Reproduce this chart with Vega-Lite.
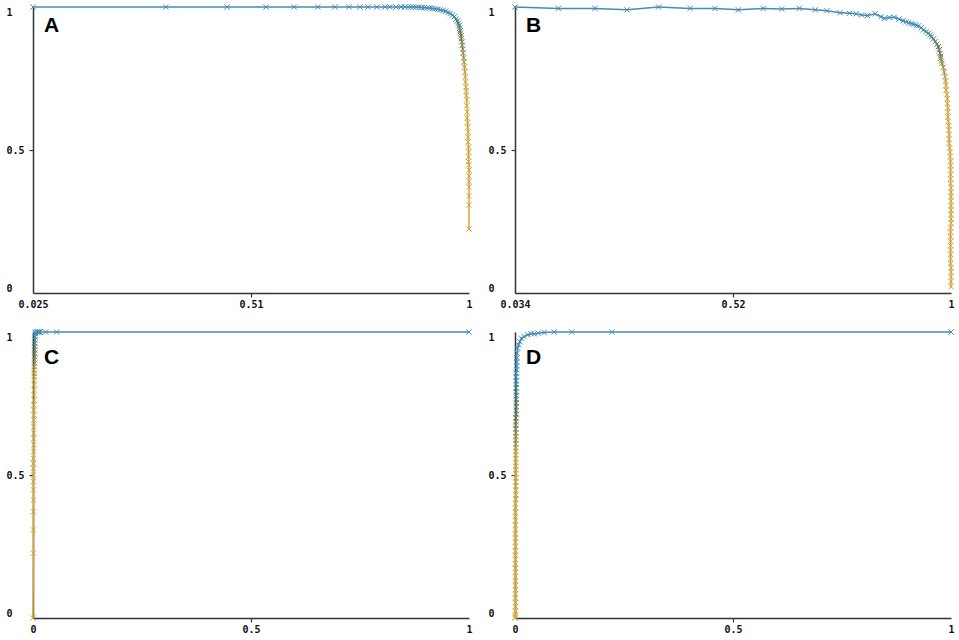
{
  "$schema": "https://vega.github.io/schema/vega-lite/v6.json",
  "padding": {"left": 6, "top": 2, "right": 5, "bottom": 5},
  "bounds": "flush",
  "columns": 2,
  "spacing": {"row": 39, "column": 46},
  "config": {
    "view": {"stroke": null},
    "axis": {
      "grid": false,
      "title": null,
      "domainColor": "#333333",
      "domainWidth": 1.5,
      "tickColor": "#333333",
      "tickWidth": 1.2,
      "tickSize": 4,
      "labelFont": "DejaVu Sans Mono",
      "labelFontSize": 10,
      "labelFontWeight": "bold",
      "labelColor": "#111111",
      "format": ".2~r",
      "tickOpacity": {"condition": {"test": "datum.value > 0.1 && datum.value < 0.9", "value": 1}, "value": 0}
    },
    "axisX": {"labelPadding": 2, "labelFlush": false},
    "axisY": {"labelAlign": "left", "labelPadding": 23, "labelFlush": true}
  },
  "datasets": {
    "A": [
      {"x":0.025,"y":1.0,"threshold":1.0},{"x":0.322,"y":1.0,"threshold":0.98},{"x":0.459,"y":1.0,"threshold":0.96},{"x":0.546,"y":1.0,"threshold":0.94},{"x":0.609,"y":1.0,"threshold":0.92},{"x":0.662,"y":1.0,"threshold":0.9},{"x":0.7,"y":1.0,"threshold":0.88},{"x":0.732,"y":1.0,"threshold":0.86},{"x":0.756,"y":1.0,"threshold":0.84},{"x":0.774,"y":1.0,"threshold":0.82},{"x":0.794,"y":1.0,"threshold":0.8},{"x":0.812,"y":1.0,"threshold":0.78},{"x":0.823,"y":1.0,"threshold":0.77},{"x":0.837,"y":1.0,"threshold":0.76},{"x":0.848,"y":1.0,"threshold":0.75},{"x":0.857,"y":1.0,"threshold":0.74},{"x":0.864,"y":1.0,"threshold":0.73},{"x":0.87,"y":1.0,"threshold":0.72},{"x":0.876,"y":1.0,"threshold":0.71},{"x":0.882,"y":0.999,"threshold":0.7},{"x":0.888,"y":0.999,"threshold":0.69},{"x":0.894,"y":0.998,"threshold":0.68},{"x":0.9,"y":0.998,"threshold":0.67},{"x":0.906,"y":0.997,"threshold":0.66},{"x":0.912,"y":0.996,"threshold":0.65},{"x":0.918,"y":0.995,"threshold":0.645},{"x":0.924,"y":0.994,"threshold":0.64},{"x":0.93,"y":0.992,"threshold":0.635},{"x":0.936,"y":0.99,"threshold":0.63},{"x":0.942,"y":0.988,"threshold":0.625},{"x":0.948,"y":0.985,"threshold":0.62},{"x":0.953,"y":0.981,"threshold":0.61},{"x":0.958,"y":0.977,"threshold":0.6},{"x":0.963,"y":0.972,"threshold":0.59},{"x":0.967,"y":0.966,"threshold":0.58},{"x":0.971,"y":0.959,"threshold":0.57},{"x":0.974,"y":0.951,"threshold":0.56},{"x":0.976,"y":0.943,"threshold":0.55},{"x":0.978,"y":0.935,"threshold":0.54},{"x":0.979,"y":0.926,"threshold":0.53},{"x":0.98,"y":0.917,"threshold":0.52},{"x":0.981,"y":0.908,"threshold":0.51},{"x":0.982,"y":0.899,"threshold":0.5},{"x":0.983,"y":0.889,"threshold":0.49},{"x":0.984,"y":0.878,"threshold":0.48},{"x":0.985,"y":0.866,"threshold":0.47},{"x":0.986,"y":0.853,"threshold":0.46},{"x":0.987,"y":0.839,"threshold":0.45},{"x":0.988,"y":0.823,"threshold":0.44},{"x":0.989,"y":0.808,"threshold":0.43},{"x":0.99,"y":0.79,"threshold":0.42},{"x":0.991,"y":0.773,"threshold":0.41},{"x":0.992,"y":0.755,"threshold":0.4},{"x":0.992,"y":0.738,"threshold":0.38},{"x":0.993,"y":0.72,"threshold":0.36},{"x":0.994,"y":0.706,"threshold":0.34},{"x":0.994,"y":0.69,"threshold":0.32},{"x":0.995,"y":0.675,"threshold":0.3},{"x":0.995,"y":0.655,"threshold":0.28},{"x":0.996,"y":0.633,"threshold":0.26},{"x":0.996,"y":0.612,"threshold":0.24},{"x":0.997,"y":0.596,"threshold":0.22},{"x":0.997,"y":0.58,"threshold":0.2},{"x":0.998,"y":0.562,"threshold":0.18},{"x":0.998,"y":0.545,"threshold":0.16},{"x":0.998,"y":0.528,"threshold":0.14},{"x":0.999,"y":0.51,"threshold":0.12},{"x":0.999,"y":0.493,"threshold":0.11},{"x":0.999,"y":0.476,"threshold":0.1},{"x":0.999,"y":0.46,"threshold":0.09},{"x":1.0,"y":0.448,"threshold":0.08},{"x":1.0,"y":0.43,"threshold":0.07},{"x":1.0,"y":0.409,"threshold":0.06},{"x":1.0,"y":0.39,"threshold":0.05},{"x":1.0,"y":0.371,"threshold":0.04},{"x":1.0,"y":0.34,"threshold":0.03},{"x":1.0,"y":0.308,"threshold":0.02},{"x":1.0,"y":0.224,"threshold":0.0}
    ],
    "B": [
      {"x":0.034,"y":1.0,"threshold":1.0},{"x":0.13,"y":0.995,"threshold":0.98},{"x":0.211,"y":0.995,"threshold":0.96},{"x":0.282,"y":0.99,"threshold":0.94},{"x":0.352,"y":1.0,"threshold":0.92},{"x":0.422,"y":0.995,"threshold":0.9},{"x":0.477,"y":0.995,"threshold":0.88},{"x":0.529,"y":0.99,"threshold":0.86},{"x":0.584,"y":0.995,"threshold":0.84},{"x":0.625,"y":0.993,"threshold":0.82},{"x":0.664,"y":0.995,"threshold":0.8},{"x":0.699,"y":0.99,"threshold":0.78},{"x":0.725,"y":0.987,"threshold":0.76},{"x":0.754,"y":0.98,"threshold":0.74},{"x":0.775,"y":0.978,"threshold":0.73},{"x":0.79,"y":0.976,"threshold":0.72},{"x":0.802,"y":0.972,"threshold":0.71},{"x":0.815,"y":0.97,"threshold":0.7},{"x":0.832,"y":0.976,"threshold":0.69},{"x":0.845,"y":0.966,"threshold":0.68},{"x":0.852,"y":0.96,"threshold":0.67},{"x":0.863,"y":0.963,"threshold":0.66},{"x":0.874,"y":0.964,"threshold":0.65},{"x":0.885,"y":0.958,"threshold":0.645},{"x":0.894,"y":0.952,"threshold":0.64},{"x":0.9,"y":0.948,"threshold":0.635},{"x":0.906,"y":0.945,"threshold":0.63},{"x":0.912,"y":0.942,"threshold":0.625},{"x":0.917,"y":0.94,"threshold":0.62},{"x":0.923,"y":0.936,"threshold":0.615},{"x":0.928,"y":0.934,"threshold":0.61},{"x":0.934,"y":0.927,"threshold":0.6},{"x":0.939,"y":0.92,"threshold":0.59},{"x":0.945,"y":0.914,"threshold":0.58},{"x":0.95,"y":0.908,"threshold":0.57},{"x":0.954,"y":0.902,"threshold":0.56},{"x":0.957,"y":0.896,"threshold":0.55},{"x":0.961,"y":0.888,"threshold":0.54},{"x":0.965,"y":0.879,"threshold":0.53},{"x":0.969,"y":0.87,"threshold":0.52},{"x":0.972,"y":0.861,"threshold":0.51},{"x":0.974,"y":0.85,"threshold":0.5},{"x":0.976,"y":0.838,"threshold":0.49},{"x":0.977,"y":0.828,"threshold":0.48},{"x":0.977,"y":0.82,"threshold":0.47},{"x":0.979,"y":0.811,"threshold":0.46},{"x":0.98,"y":0.803,"threshold":0.45},{"x":0.983,"y":0.789,"threshold":0.44},{"x":0.985,"y":0.773,"threshold":0.43},{"x":0.987,"y":0.756,"threshold":0.42},{"x":0.988,"y":0.741,"threshold":0.41},{"x":0.989,"y":0.725,"threshold":0.4},{"x":0.989,"y":0.71,"threshold":0.39},{"x":0.991,"y":0.694,"threshold":0.38},{"x":0.992,"y":0.679,"threshold":0.37},{"x":0.992,"y":0.663,"threshold":0.36},{"x":0.993,"y":0.648,"threshold":0.35},{"x":0.993,"y":0.632,"threshold":0.34},{"x":0.993,"y":0.616,"threshold":0.33},{"x":0.994,"y":0.6,"threshold":0.32},{"x":0.995,"y":0.585,"threshold":0.31},{"x":0.995,"y":0.57,"threshold":0.3},{"x":0.996,"y":0.554,"threshold":0.29},{"x":0.996,"y":0.538,"threshold":0.28},{"x":0.996,"y":0.523,"threshold":0.27},{"x":0.997,"y":0.507,"threshold":0.26},{"x":0.998,"y":0.492,"threshold":0.25},{"x":0.998,"y":0.477,"threshold":0.24},{"x":0.999,"y":0.461,"threshold":0.23},{"x":0.999,"y":0.446,"threshold":0.22},{"x":0.999,"y":0.43,"threshold":0.21},{"x":0.999,"y":0.414,"threshold":0.2},{"x":0.999,"y":0.399,"threshold":0.19},{"x":0.999,"y":0.383,"threshold":0.18},{"x":1.0,"y":0.368,"threshold":0.17},{"x":1.0,"y":0.352,"threshold":0.16},{"x":1.0,"y":0.337,"threshold":0.15},{"x":1.0,"y":0.321,"threshold":0.14},{"x":1.0,"y":0.305,"threshold":0.13},{"x":1.0,"y":0.29,"threshold":0.12},{"x":1.0,"y":0.275,"threshold":0.11},{"x":1.0,"y":0.259,"threshold":0.1},{"x":1.0,"y":0.244,"threshold":0.09},{"x":0.999,"y":0.228,"threshold":0.08},{"x":0.999,"y":0.213,"threshold":0.07},{"x":0.999,"y":0.197,"threshold":0.06},{"x":0.999,"y":0.181,"threshold":0.05},{"x":0.999,"y":0.166,"threshold":0.045},{"x":0.999,"y":0.15,"threshold":0.04},{"x":0.999,"y":0.135,"threshold":0.035},{"x":0.999,"y":0.12,"threshold":0.03},{"x":0.999,"y":0.104,"threshold":0.025},{"x":1.0,"y":0.088,"threshold":0.02},{"x":1.0,"y":0.073,"threshold":0.015},{"x":1.0,"y":0.057,"threshold":0.01},{"x":1.0,"y":0.04,"threshold":0.005},{"x":1.0,"y":0.022,"threshold":0.0}
    ],
    "C": [
      {"x":1.0,"y":1.0,"threshold":1.0},{"x":0.054,"y":1.0,"threshold":0.9},{"x":0.029,"y":1.0,"threshold":0.8},{"x":0.016,"y":1.0,"threshold":0.75},{"x":0.014,"y":1.0,"threshold":0.72},{"x":0.012,"y":1.0,"threshold":0.7},{"x":0.01,"y":1.0,"threshold":0.68},{"x":0.008,"y":1.0,"threshold":0.66},{"x":0.006,"y":0.998,"threshold":0.64},{"x":0.005,"y":0.995,"threshold":0.62},{"x":0.005,"y":0.984,"threshold":0.6},{"x":0.005,"y":0.972,"threshold":0.57},{"x":0.004,"y":0.961,"threshold":0.55},{"x":0.004,"y":0.949,"threshold":0.53},{"x":0.004,"y":0.937,"threshold":0.51},{"x":0.004,"y":0.926,"threshold":0.49},{"x":0.004,"y":0.914,"threshold":0.475},{"x":0.004,"y":0.902,"threshold":0.46},{"x":0.004,"y":0.891,"threshold":0.45},{"x":0.003,"y":0.879,"threshold":0.44},{"x":0.003,"y":0.867,"threshold":0.43},{"x":0.003,"y":0.856,"threshold":0.42},{"x":0.003,"y":0.844,"threshold":0.41},{"x":0.003,"y":0.832,"threshold":0.4},{"x":0.003,"y":0.815,"threshold":0.38},{"x":0.003,"y":0.797,"threshold":0.36},{"x":0.003,"y":0.78,"threshold":0.34},{"x":0.003,"y":0.762,"threshold":0.32},{"x":0.002,"y":0.745,"threshold":0.3},{"x":0.002,"y":0.727,"threshold":0.29},{"x":0.002,"y":0.71,"threshold":0.28},{"x":0.002,"y":0.692,"threshold":0.27},{"x":0.002,"y":0.669,"threshold":0.26},{"x":0.002,"y":0.646,"threshold":0.25},{"x":0.002,"y":0.628,"threshold":0.24},{"x":0.002,"y":0.605,"threshold":0.23},{"x":0.002,"y":0.582,"threshold":0.22},{"x":0.001,"y":0.558,"threshold":0.21},{"x":0.001,"y":0.541,"threshold":0.2},{"x":0.001,"y":0.523,"threshold":0.19},{"x":0.001,"y":0.5,"threshold":0.18},{"x":0.001,"y":0.477,"threshold":0.16},{"x":0.001,"y":0.448,"threshold":0.14},{"x":0.001,"y":0.413,"threshold":0.12},{"x":0.001,"y":0.372,"threshold":0.1},{"x":0.001,"y":0.308,"threshold":0.07},{"x":0.001,"y":0.226,"threshold":0.04},{"x":0.0,"y":0.0,"threshold":0.0}
    ],
    "D": [
      {"x":1.0,"y":1.0,"threshold":1.0},{"x":0.222,"y":1.0,"threshold":0.95},{"x":0.13,"y":1.0,"threshold":0.9},{"x":0.09,"y":1.0,"threshold":0.86},{"x":0.067,"y":0.998,"threshold":0.83},{"x":0.053,"y":0.996,"threshold":0.81},{"x":0.044,"y":0.994,"threshold":0.79},{"x":0.037,"y":0.994,"threshold":0.77},{"x":0.029,"y":0.99,"threshold":0.75},{"x":0.021,"y":0.984,"threshold":0.73},{"x":0.015,"y":0.978,"threshold":0.71},{"x":0.011,"y":0.966,"threshold":0.69},{"x":0.008,"y":0.955,"threshold":0.67},{"x":0.006,"y":0.943,"threshold":0.66},{"x":0.005,"y":0.926,"threshold":0.65},{"x":0.004,"y":0.909,"threshold":0.64},{"x":0.004,"y":0.895,"threshold":0.63},{"x":0.004,"y":0.882,"threshold":0.62},{"x":0.004,"y":0.868,"threshold":0.61},{"x":0.003,"y":0.856,"threshold":0.6},{"x":0.003,"y":0.843,"threshold":0.59},{"x":0.003,"y":0.829,"threshold":0.58},{"x":0.003,"y":0.817,"threshold":0.57},{"x":0.003,"y":0.805,"threshold":0.56},{"x":0.003,"y":0.79,"threshold":0.55},{"x":0.003,"y":0.778,"threshold":0.545},{"x":0.003,"y":0.764,"threshold":0.54},{"x":0.003,"y":0.752,"threshold":0.535},{"x":0.003,"y":0.739,"threshold":0.53},{"x":0.003,"y":0.725,"threshold":0.52},{"x":0.003,"y":0.713,"threshold":0.51},{"x":0.002,"y":0.7,"threshold":0.5},{"x":0.002,"y":0.686,"threshold":0.49},{"x":0.002,"y":0.675,"threshold":0.48},{"x":0.002,"y":0.661,"threshold":0.47},{"x":0.002,"y":0.648,"threshold":0.46},{"x":0.002,"y":0.634,"threshold":0.45},{"x":0.002,"y":0.623,"threshold":0.44},{"x":0.002,"y":0.609,"threshold":0.43},{"x":0.002,"y":0.596,"threshold":0.42},{"x":0.002,"y":0.582,"threshold":0.41},{"x":0.002,"y":0.571,"threshold":0.4},{"x":0.002,"y":0.557,"threshold":0.39},{"x":0.002,"y":0.544,"threshold":0.38},{"x":0.002,"y":0.53,"threshold":0.37},{"x":0.002,"y":0.519,"threshold":0.36},{"x":0.002,"y":0.505,"threshold":0.35},{"x":0.002,"y":0.49,"threshold":0.34},{"x":0.002,"y":0.476,"threshold":0.33},{"x":0.002,"y":0.461,"threshold":0.32},{"x":0.002,"y":0.447,"threshold":0.31},{"x":0.002,"y":0.43,"threshold":0.3},{"x":0.002,"y":0.416,"threshold":0.29},{"x":0.001,"y":0.4,"threshold":0.28},{"x":0.001,"y":0.386,"threshold":0.27},{"x":0.001,"y":0.369,"threshold":0.26},{"x":0.001,"y":0.355,"threshold":0.25},{"x":0.001,"y":0.34,"threshold":0.24},{"x":0.001,"y":0.324,"threshold":0.23},{"x":0.001,"y":0.31,"threshold":0.22},{"x":0.001,"y":0.294,"threshold":0.21},{"x":0.001,"y":0.279,"threshold":0.2},{"x":0.001,"y":0.265,"threshold":0.19},{"x":0.001,"y":0.25,"threshold":0.18},{"x":0.001,"y":0.234,"threshold":0.17},{"x":0.001,"y":0.219,"threshold":0.16},{"x":0.001,"y":0.205,"threshold":0.15},{"x":0.001,"y":0.19,"threshold":0.14},{"x":0.001,"y":0.173,"threshold":0.13},{"x":0.001,"y":0.16,"threshold":0.12},{"x":0.001,"y":0.144,"threshold":0.11},{"x":0.001,"y":0.13,"threshold":0.1},{"x":0.001,"y":0.113,"threshold":0.09},{"x":0.001,"y":0.099,"threshold":0.08},{"x":0.001,"y":0.084,"threshold":0.07},{"x":0.001,"y":0.07,"threshold":0.06},{"x":0.001,"y":0.054,"threshold":0.05},{"x":0.001,"y":0.04,"threshold":0.04},{"x":0.001,"y":0.024,"threshold":0.03},{"x":0.001,"y":0.011,"threshold":0.02},{"x":0.001,"y":0.003,"threshold":0.01},{"x":0.0,"y":0.0,"threshold":0.0}
    ]
  },
  "concat": [
    {
      "width": 436, "height": 286,
      "data": {"name": "A"},
      "encoding": {
        "x": {"field": "x", "type": "quantitative", "scale": {"domain": [0.025, 1], "nice": false, "zero": false}, "axis": {"values": [0.025, 0.5125, 1]}},
        "y": {"field": "y", "type": "quantitative", "scale": {"domain": [0, 1], "nice": false}, "axis": {"values": [0, 0.5, 1]}}
      },
      "layer": [
        {
          "transform": [{"window": [{"op": "lead", "field": "x", "as": "x2"}, {"op": "lead", "field": "y", "as": "y2"}], "sort": [{"field": "threshold", "order": "descending"}]}, {"filter": "datum.x2 != null"}],
          "mark": {"type": "rule", "strokeWidth": 1.5, "strokeCap": "round"},
          "encoding": {"x2": {"field": "x2"}, "y2": {"field": "y2"}, "color": {"field": "threshold", "type": "quantitative", "legend": null, "scale": {"domain": [0, 0.4, 0.5, 0.6, 1], "range": ["#d6a53c", "#d4a640", "#72765a", "#468cb8", "#468cb8"]}}}
        },
        {
          "mark": {"type": "point", "shape": "M-1,-1L1,1M-1,1L1,-1", "filled": false, "size": 28, "strokeWidth": 1, "opacity": 1},
          "encoding": {"color": {"field": "threshold", "type": "quantitative", "legend": null, "scale": {"domain": [0, 0.4, 0.5, 0.6, 1], "range": ["#d6a53c", "#d4a640", "#72765a", "#468cb8", "#468cb8"]}}}
        },
        {
          "data": {"values": [{"label": "A", "x": 0.025, "y": 1}]},
          "mark": {"type": "text", "align": "left", "baseline": "alphabetic", "dx": 11, "dy": 24.5, "font": "Liberation Sans", "fontSize": 21, "fontWeight": "bold", "color": "#000000"},
          "encoding": {"text": {"field": "label"}}
        }
      ]
    },
    {
      "width": 436, "height": 286,
      "data": {"name": "B"},
      "encoding": {
        "x": {"field": "x", "type": "quantitative", "scale": {"domain": [0.034, 1], "nice": false, "zero": false}, "axis": {"values": [0.034, 0.517, 1]}},
        "y": {"field": "y", "type": "quantitative", "scale": {"domain": [0, 1], "nice": false}, "axis": {"values": [0, 0.5, 1]}}
      },
      "layer": [
        {
          "transform": [{"window": [{"op": "lead", "field": "x", "as": "x2"}, {"op": "lead", "field": "y", "as": "y2"}], "sort": [{"field": "threshold", "order": "descending"}]}, {"filter": "datum.x2 != null"}],
          "mark": {"type": "rule", "strokeWidth": 1.5, "strokeCap": "round"},
          "encoding": {"x2": {"field": "x2"}, "y2": {"field": "y2"}, "color": {"field": "threshold", "type": "quantitative", "legend": null, "scale": {"domain": [0, 0.4, 0.5, 0.6, 1], "range": ["#d6a53c", "#d4a640", "#72765a", "#468cb8", "#468cb8"]}}}
        },
        {
          "mark": {"type": "point", "shape": "M-1,-1L1,1M-1,1L1,-1", "filled": false, "size": 28, "strokeWidth": 1, "opacity": 1},
          "encoding": {"color": {"field": "threshold", "type": "quantitative", "legend": null, "scale": {"domain": [0, 0.4, 0.5, 0.6, 1], "range": ["#d6a53c", "#d4a640", "#72765a", "#468cb8", "#468cb8"]}}}
        },
        {
          "data": {"values": [{"label": "B", "x": 0.034, "y": 1}]},
          "mark": {"type": "text", "align": "left", "baseline": "alphabetic", "dx": 11, "dy": 24.5, "font": "Liberation Sans", "fontSize": 21, "fontWeight": "bold", "color": "#000000"},
          "encoding": {"text": {"field": "label"}}
        }
      ]
    },
    {
      "width": 436, "height": 286,
      "data": {"name": "C"},
      "encoding": {
        "x": {"field": "x", "type": "quantitative", "scale": {"domain": [0, 1], "nice": false, "zero": false}, "axis": {"values": [0, 0.5, 1]}},
        "y": {"field": "y", "type": "quantitative", "scale": {"domain": [0, 1], "nice": false}, "axis": {"values": [0, 0.5, 1]}}
      },
      "layer": [
        {
          "transform": [{"window": [{"op": "lead", "field": "x", "as": "x2"}, {"op": "lead", "field": "y", "as": "y2"}], "sort": [{"field": "threshold", "order": "descending"}]}, {"filter": "datum.x2 != null"}],
          "mark": {"type": "rule", "strokeWidth": 1.5, "strokeCap": "round"},
          "encoding": {"x2": {"field": "x2"}, "y2": {"field": "y2"}, "color": {"field": "threshold", "type": "quantitative", "legend": null, "scale": {"domain": [0, 0.4, 0.5, 0.6, 1], "range": ["#d6a53c", "#d4a640", "#72765a", "#468cb8", "#468cb8"]}}}
        },
        {
          "mark": {"type": "point", "shape": "M-1,-1L1,1M-1,1L1,-1", "filled": false, "size": 28, "strokeWidth": 1, "opacity": 1},
          "encoding": {"color": {"field": "threshold", "type": "quantitative", "legend": null, "scale": {"domain": [0, 0.4, 0.5, 0.6, 1], "range": ["#d6a53c", "#d4a640", "#72765a", "#468cb8", "#468cb8"]}}}
        },
        {
          "data": {"values": [{"label": "C", "x": 0, "y": 1}]},
          "mark": {"type": "text", "align": "left", "baseline": "alphabetic", "dx": 11, "dy": 31.5, "font": "Liberation Sans", "fontSize": 21, "fontWeight": "bold", "color": "#000000"},
          "encoding": {"text": {"field": "label"}}
        }
      ]
    },
    {
      "width": 436, "height": 286,
      "data": {"name": "D"},
      "encoding": {
        "x": {"field": "x", "type": "quantitative", "scale": {"domain": [0, 1], "nice": false, "zero": false}, "axis": {"values": [0, 0.5, 1]}},
        "y": {"field": "y", "type": "quantitative", "scale": {"domain": [0, 1], "nice": false}, "axis": {"values": [0, 0.5, 1]}}
      },
      "layer": [
        {
          "transform": [{"window": [{"op": "lead", "field": "x", "as": "x2"}, {"op": "lead", "field": "y", "as": "y2"}], "sort": [{"field": "threshold", "order": "descending"}]}, {"filter": "datum.x2 != null"}],
          "mark": {"type": "rule", "strokeWidth": 1.5, "strokeCap": "round"},
          "encoding": {"x2": {"field": "x2"}, "y2": {"field": "y2"}, "color": {"field": "threshold", "type": "quantitative", "legend": null, "scale": {"domain": [0, 0.4, 0.5, 0.6, 1], "range": ["#d6a53c", "#d4a640", "#72765a", "#468cb8", "#468cb8"]}}}
        },
        {
          "mark": {"type": "point", "shape": "M-1,-1L1,1M-1,1L1,-1", "filled": false, "size": 28, "strokeWidth": 1, "opacity": 1},
          "encoding": {"color": {"field": "threshold", "type": "quantitative", "legend": null, "scale": {"domain": [0, 0.4, 0.5, 0.6, 1], "range": ["#d6a53c", "#d4a640", "#72765a", "#468cb8", "#468cb8"]}}}
        },
        {
          "data": {"values": [{"label": "D", "x": 0, "y": 1}]},
          "mark": {"type": "text", "align": "left", "baseline": "alphabetic", "dx": 11, "dy": 31.5, "font": "Liberation Sans", "fontSize": 21, "fontWeight": "bold", "color": "#000000"},
          "encoding": {"text": {"field": "label"}}
        }
      ]
    }
  ]
}
